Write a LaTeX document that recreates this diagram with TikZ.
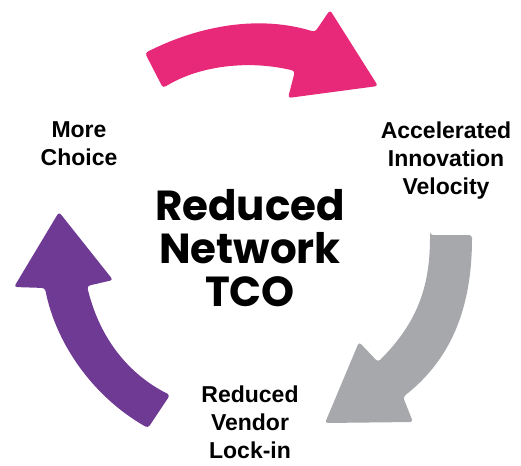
\documentclass[tikz,border=0pt]{standalone}
\usepackage{fontspec}
\setmainfont{Liberation Sans}
\newfontfamily\popfont{Poppins}
\definecolor{pinkc}{HTML}{E8297A}
\definecolor{purplec}{HTML}{6F3A93}
\definecolor{grayc}{HTML}{A7A8AB}
\begin{document}
\begin{tikzpicture}[x=1pt,y=-1pt,
  arrowshape/.style={rounded corners=3pt},
  lbl/.style={align=center,font=\fontsize{23}{28}\selectfont\bfseries,inner sep=0pt},
  centre/.style={align=center,font=\fontsize{42}{43}\selectfont\popfont\bfseries,inner sep=0pt}]
\useasboundingbox (0,0) rectangle (521,465);
% pink arrow
\fill[pinkc,arrowshape] (145,53) .. controls (200,25) and (260,15) .. (315,32) -- (330,10) -- (378,86) -- (288,98) -- (295,71) .. controls (250,60) and (200,65) .. (163,88) -- cycle;
% gray arrow
\fill[grayc,arrowshape] (430,235) -- (472,235) .. controls (472,310) and (450,360) .. (403,397) -- (413,422) -- (325,423) -- (359,342) -- (378,362) .. controls (415,325) and (430,290) .. (430,235) -- cycle;
% purple arrow
\fill[purplec,arrowshape] (59,212) -- (113,280) -- (87,286) .. controls (100,340) and (130,375) .. (170,395) -- (148,428) .. controls (90,395) and (55,340) .. (45,288) -- (14,287) -- cycle;
\node[lbl] (choice) at (79,144) {More\\Choice};
\node[lbl] (accel) at (446,161) {Accelerated\\Innovation\\Velocity};
\node[lbl] (lock) at (250,422) {Reduced\\Vendor\\Lock-in};
\node[centre] (tco) at (250,248) {Reduced\\Network\\TCO};
\end{tikzpicture}
\end{document}
